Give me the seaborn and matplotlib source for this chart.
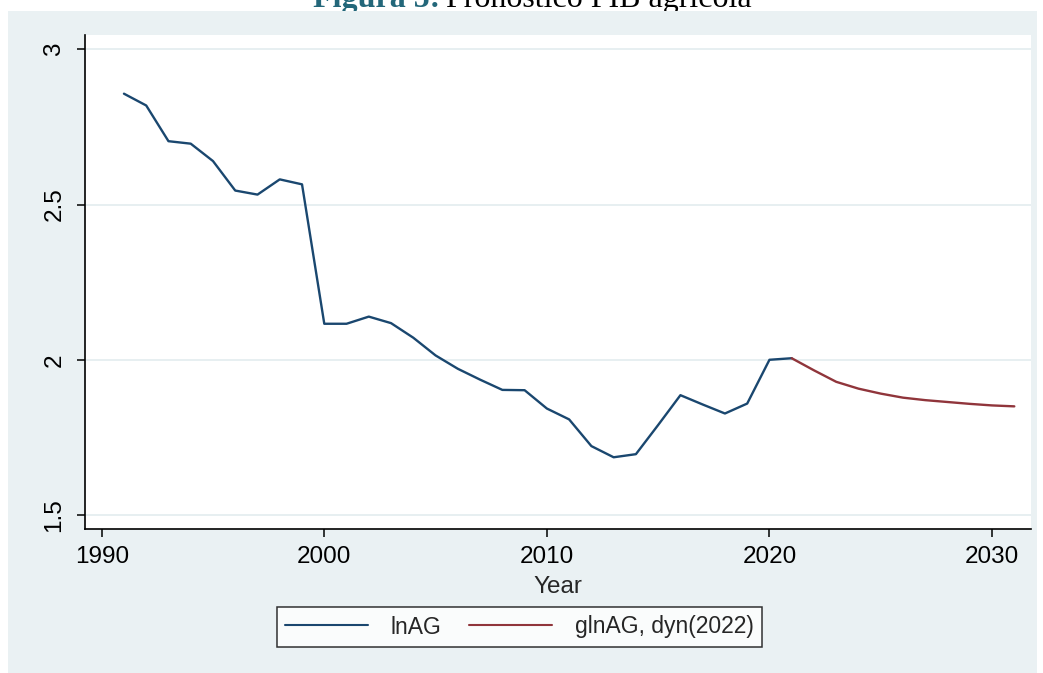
import numpy as np
import pandas as pd
import matplotlib
matplotlib.use("Agg")
import matplotlib.pyplot as plt
from matplotlib.patches import Rectangle
import seaborn as sns

# ---- data ----
years_hist = list(range(1991, 2022))
lnAG = [2.857, 2.819, 2.704, 2.696, 2.640, 2.545, 2.532, 2.581, 2.565, 2.116,
        2.116, 2.139, 2.118, 2.071, 2.014, 1.971, 1.936, 1.903, 1.902, 1.843,
        1.808, 1.722, 1.686, 1.696, 1.790, 1.886, 1.856, 1.827, 1.859, 2.000,
        2.005]
years_fc = list(range(2021, 2032))
glnAG = [2.005, 1.966, 1.929, 1.907, 1.891, 1.878, 1.870, 1.864, 1.858, 1.853, 1.850]
series_names = ["lnAG", "glnAG, dyn(2022)"]
x_ticks = [1990, 2000, 2010, 2020, 2030]
y_ticks = [1.5, 2, 2.5, 3]
y_ticklabels = ["1.5", "2", "2.5", "3"]

df = pd.concat([
    pd.DataFrame({"Year": years_hist, "value": lnAG, "series": series_names[0]}),
    pd.DataFrame({"Year": years_fc, "value": glnAG, "series": series_names[1]}),
])

sns.set_style("ticks")
plt.rcParams["font.family"] = ["Liberation Sans", "DejaVu Sans"]

W, H = 1043, 673
fig = plt.figure(figsize=(W / 100, H / 100), dpi=100)
fig.patch.set_facecolor("white")

# outer graph region background
bg = Rectangle((8 / W, 0), (1037 - 8) / W, (H - 11) / H, transform=fig.transFigure,
               facecolor="#EAF1F3", edgecolor="none", zorder=-1)
fig.patches.append(bg)

# title (partially hidden behind the graph region, as in the source)
fig.text(313 / W, 1 - 7 / H, "Figura 5:", fontsize=23, fontweight="bold",
         color="#23677A", family=["Liberation Serif", "DejaVu Serif"],
         ha="left", va="baseline", zorder=-2)
fig.text(446 / W, 1 - 7 / H, "Pronóstico PIB agrícola", fontsize=23,
         color="black", family=["Liberation Serif", "DejaVu Serif"],
         ha="left", va="baseline", zorder=-2)

left, right, top, bottom = 85, 1031, 35, 529
ax = fig.add_axes([left / W, 1 - bottom / H, (right - left) / W, (bottom - top) / H])
ax.set_facecolor("white")

palette = {series_names[0]: "#1A476F", series_names[1]: "#90353B"}
sns.lineplot(data=df, x="Year", y="value", hue="series", palette=palette,
             linewidth=1.7, ax=ax, legend=False, estimator=None, sort=True)

ax.set_xlim(1989.25, 2031.75)
ax.set_ylim(1.455, 3.046)
ax.set_xticks(x_ticks)
ax.set_yticks(y_ticks)
ax.set_yticklabels(y_ticklabels, rotation=90, va="center")
ax.yaxis.grid(True, color="#E3ECEF", linewidth=1.2)
ax.xaxis.grid(False)
ax.set_axisbelow(True)

for s in ["top", "right"]:
    ax.spines[s].set_visible(False)
for s in ["left", "bottom"]:
    ax.spines[s].set_color("black")
    ax.spines[s].set_linewidth(1.2)

ax.tick_params(axis="both", direction="out", length=6, width=1.1, color="black",
               labelsize=17.5, labelcolor="black")
ax.tick_params(axis="x", pad=6)
ax.tick_params(axis="y", pad=8)
ax.set_xlabel("Year", fontsize=17.5, labelpad=6)
ax.set_ylabel("")

handles = [plt.Line2D([], [], color=palette[n], linewidth=1.5) for n in series_names]
leg = fig.legend(handles, series_names, loc="center",
                 bbox_to_anchor=((277 + 762) / 2 / W, 1 - 627 / H),
                 ncol=2, fontsize=16.5, frameon=True, fancybox=False,
                 handlelength=3.6, handletextpad=1.0, columnspacing=1.2,
                 borderpad=0.35, borderaxespad=0)
leg.get_frame().set_edgecolor("black")
leg.get_frame().set_linewidth(1.1)
leg.get_frame().set_facecolor("white")

fig.savefig("out.png", dpi=100, facecolor=fig.get_facecolor())
